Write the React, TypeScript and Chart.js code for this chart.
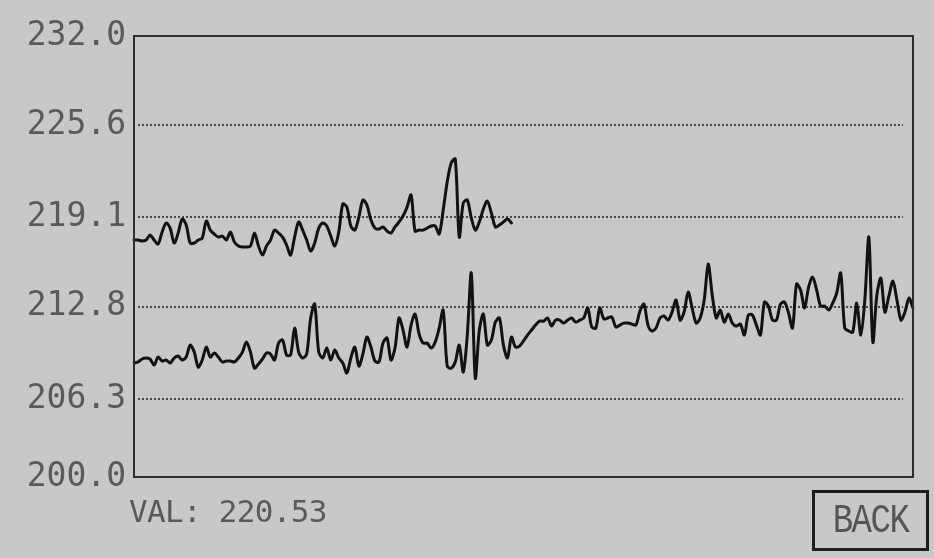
import { useEffect, useRef } from "react";
import { Chart, registerables } from "chart.js";

Chart.register(...registerables);

// ---- data ----
const sampleCount = 195;
const sampleLabels: string[] = Array.from({ length: sampleCount }, (_, i) => String(i));

const upperSeries: number[] = [
  217.50, 217.50, 217.43, 217.50, 217.85, 217.50, 217.22, 218.06, 218.70, 218.34,
  217.29, 217.99, 218.98, 218.56, 217.29, 217.29, 217.50, 217.64, 218.84, 218.20,
  217.92, 217.71, 217.78, 217.50, 218.06, 217.36, 217.08, 217.01, 217.01, 217.08,
  217.99, 217.08, 216.44, 217.08, 217.50, 218.20, 217.99, 217.71, 217.15, 216.44,
  217.71, 218.77, 218.20, 217.50, 216.72, 217.29, 218.34, 218.70, 218.49, 217.78,
  217.08, 218.06, 220.04, 219.82, 218.49, 218.20, 219.12, 220.32, 219.97, 218.91,
  218.34, 218.27, 218.42, 218.13, 217.99, 218.42, 218.77, 219.19, 219.82, 220.67,
  218.13, 218.20, 218.20, 218.34, 218.49, 218.49, 217.92, 219.61, 221.59, 222.92,
  223.21, 217.71, 220.11, 220.32, 219.05, 218.20, 218.77, 219.68, 220.25, 219.40,
  218.42, 218.56, 218.77, 218.98, 218.70,
];

const lowerSeries: number[] = [
  208.84, 208.91, 209.12, 209.19, 209.12, 208.70, 209.26, 208.98, 209.05, 208.84,
  209.19, 209.33, 209.05, 209.26, 210.10, 209.61, 208.55, 209.05, 209.96, 209.26,
  209.54, 209.26, 208.91, 208.98, 208.98, 208.91, 209.19, 209.61, 210.31, 209.61,
  208.48, 208.77, 209.12, 209.54, 209.47, 209.05, 210.24, 210.46, 209.40, 209.40,
  211.30, 209.61, 209.19, 209.47, 212.01, 212.99, 209.61, 209.19, 209.89, 209.05,
  209.75, 209.19, 208.84, 208.13, 209.19, 209.96, 208.62, 209.47, 210.67, 209.96,
  208.98, 208.91, 210.24, 210.60, 209.05, 209.89, 212.01, 211.16, 209.96, 211.51,
  212.29, 210.88, 210.24, 210.24, 209.89, 210.31, 211.30, 212.57, 208.62, 208.48,
  208.91, 210.10, 208.20, 210.81, 215.18, 207.78, 211.16, 212.29, 210.10, 210.46,
  211.72, 212.01, 210.10, 209.19, 210.67, 209.96, 210.03, 210.39, 210.81, 211.16,
  211.51, 211.79, 211.79, 212.01, 211.44, 211.86, 211.86, 211.65, 211.86, 212.01,
  211.72, 211.86, 212.01, 212.71, 211.37, 211.30, 212.71, 211.94, 212.01, 212.08,
  211.37, 211.51, 211.65, 211.65, 211.58, 211.51, 212.50, 212.99, 211.51, 211.09,
  211.30, 212.01, 212.15, 211.86, 212.43, 213.27, 211.86, 212.43, 213.84, 212.71,
  211.65, 212.01, 213.27, 215.81, 213.63, 212.01, 212.57, 211.72, 212.29, 211.65,
  211.44, 211.58, 210.81, 212.22, 212.22, 211.51, 210.81, 213.13, 212.85, 211.86,
  211.86, 212.99, 213.13, 212.36, 211.30, 214.40, 213.98, 212.71, 214.19, 214.89,
  213.98, 212.85, 212.85, 212.57, 213.06, 213.77, 215.18, 211.30, 211.09, 211.02,
  213.06, 210.81, 213.27, 217.71, 210.31, 213.63, 214.82, 212.43, 213.56, 214.61,
  213.27, 211.86, 212.43, 213.41, 212.71,
];

// tick positions on the device's (slightly uneven) scale and their printed labels
const yTickValues: number[] = [200.81, 206.3, 212.8, 219.1, 225.6, 231.87];
const yTickLabels: string[] = ["200.0", "206.3", "212.8", "219.1", "225.6", "232.0"];

const readoutText = "VAL: 220.53";
const buttonText = "BACK";

const BG = "#c8c8c8";
const MONO = "'DejaVu Sans Mono', 'Liberation Mono', monospace";

const framePlugin = {
  id: "lcdFrame",
  beforeDatasetsDraw(chart: any) {
    const { ctx, chartArea: a, scales } = chart;
    const y = scales.y;
    ctx.save();
    ctx.strokeStyle = "#4a4a4a";
    ctx.lineWidth = 2;
    ctx.setLineDash([2, 2]);
    yTickValues.forEach((v, i) => {
      if (i === 0 || i === yTickValues.length - 1) return;
      const py = Math.round(y.getPixelForValue(v));
      ctx.beginPath();
      ctx.moveTo(a.left + 4, py);
      ctx.lineTo(a.right - 10, py);
      ctx.stroke();
    });
    ctx.restore();
  },
  afterDraw(chart: any) {
    const { ctx, chartArea: a } = chart;
    ctx.save();
    ctx.strokeStyle = "#2e2e2e";
    ctx.lineWidth = 2;
    ctx.setLineDash([]);
    ctx.strokeRect(a.left, a.top, a.right - a.left, a.bottom - a.top);
    ctx.restore();
  },
};

export default function App() {
  const canvasRef = useRef<HTMLCanvasElement | null>(null);

  useEffect(() => {
    document.body.style.margin = "0";
    document.body.style.background = BG;
    const canvas = canvasRef.current;
    if (!canvas) return;
    const lineStyle = {
      borderColor: "#121212",
      borderWidth: 3,
      pointRadius: 0,
      tension: 0.3,
      fill: false,
      borderJoinStyle: "round" as const,
      borderCapStyle: "round" as const,
    };
    const chart = new Chart(canvas, {
      type: "line",
      data: {
        labels: sampleLabels,
        datasets: [
          { label: "upper", data: upperSeries, ...lineStyle },
          { label: "lower", data: lowerSeries, ...lineStyle },
        ],
      },
      options: {
        animation: false,
        responsive: false,
        devicePixelRatio: 1,
        events: [],
        layout: { padding: { top: 36, right: 21, bottom: 81, left: 0 } },
        plugins: {
          legend: { display: false },
          tooltip: { enabled: false },
        },
        scales: {
          x: { type: "category", display: false, offset: false },
          y: {
            type: "linear",
            min: yTickValues[0],
            max: yTickValues[yTickValues.length - 1],
            afterBuildTicks: (s: any) => {
              s.ticks = yTickValues.map((v) => ({ value: v }));
            },
            afterFit: (s: any) => {
              s.width = 134;
            },
            grid: { display: false, drawTicks: false },
            border: { display: false },
            ticks: {
              autoSkip: false,
              padding: 8,
              color: "#5a5a5a",
              font: { family: MONO, size: 33 },
              callback: (_v: any, i: number) => yTickLabels[i],
            },
          },
        },
      },
      plugins: [framePlugin],
    });
    return () => chart.destroy();
  }, []);

  return (
    <div style={{ position: "relative", width: 934, height: 558, background: BG, overflow: "hidden" }}>
      <canvas ref={canvasRef} width={934} height={558} style={{ display: "block", width: 934, height: 558 }} />
      <div
        style={{
          position: "absolute",
          left: 129,
          top: 496,
          fontFamily: MONO,
          fontSize: 31,
          lineHeight: "31px",
          letterSpacing: -0.7,
          color: "#5a5a5a",
          whiteSpace: "pre",
        }}
      >
        {readoutText}
      </div>
      <div
        style={{
          position: "absolute",
          left: 812,
          top: 490,
          width: 117,
          height: 61,
          boxSizing: "border-box",
          border: "3px solid #1c1c1c",
          display: "flex",
          alignItems: "center",
          justifyContent: "center",
          fontFamily: "'Liberation Mono', monospace",
          fontSize: 34,
          color: "#555",
          letterSpacing: -1.5,
        }}
      >
        <span style={{ display: "inline-block", transform: "scaleY(1.2)" }}>{buttonText}</span>
      </div>
    </div>
  );
}
